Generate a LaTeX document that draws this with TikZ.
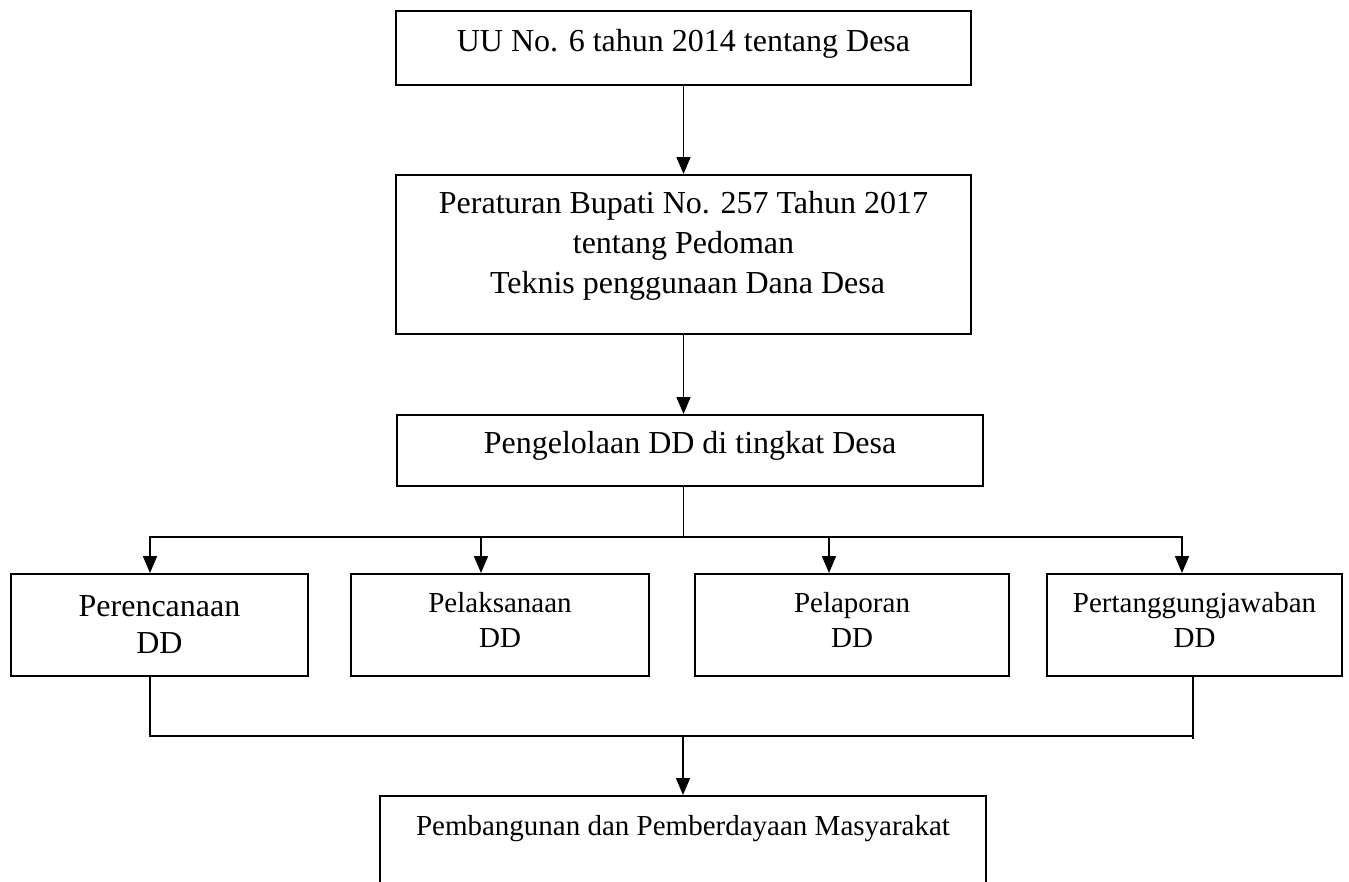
\documentclass[tikz,border=0pt]{standalone}
\usepackage{fontspec}
\setmainfont{Liberation Serif}
\usetikzlibrary{arrows.meta,calc}

\begin{document}
\begin{tikzpicture}[
    x=1pt, y=-1pt,
    box/.style={rectangle, draw, line width=2pt, inner sep=0pt, anchor=north, align=center, font=\fontsize{32}{40}\selectfont},
    bigrow/.style={box, minimum height=102pt, font=\fontsize{32}{37}\selectfont},
    smallrow/.style={box, minimum height=102pt, font=\fontsize{29}{35}\selectfont},
    arrow/.style={-{Triangle[length=17pt, width=14pt]}, line width=1.6pt},
    link/.style={line width=1.6pt}
]
\clip (0,0) rectangle (1349,881);

% Level 1: law
\node[box, minimum width=575pt, text height=40pt, text depth=34pt] (uu) at (683.5,10) {UU No. 6 tahun 2014 tentang Desa};

% Level 2: regent regulation
\node[box, minimum width=575pt, minimum height=159pt] (perbup) at (683.5,174) {
    Peraturan Bupati No. 257 Tahun 2017\\
    tentang Pedoman\\
    \ Teknis penggunaan Dana Desa\rule[-25pt]{0pt}{0pt}
};

% Level 3: village management
\node[box, minimum width=586pt, text height=38pt, text depth=33pt] (kelola) at (690,414) {Pengelolaan DD di tingkat Desa};

% Level 4: the four stages
\node[bigrow, minimum width=297pt] (rencana) at (159.5,573) {Perencanaan\\DD};
\node[smallrow, minimum width=298pt] (laksana) at (500,573) {Pelaksanaan\\DD\rule[-10pt]{0pt}{0pt}};
\node[smallrow, minimum width=314pt] (lapor) at (852,573) {Pelaporan\\DD\rule[-10pt]{0pt}{0pt}};
\node[smallrow, minimum width=295pt] (tanggung) at (1194.5,573) {Pertanggungjawaban\\DD\rule[-10pt]{0pt}{0pt}};

% Level 5: outcome
\node[box, minimum width=606pt, text height=39pt, text depth=80pt, font=\fontsize{29}{35}\selectfont] (hasil) at (683,795) {Pembangunan dan Pemberdayaan Masyarakat};

% Arrows down the spine
\draw[arrow] (uu) -- (perbup);
\draw[arrow] (perbup.south) -- (perbup.south |- kelola.north);

% Split into the four stages
\coordinate (split) at ($(kelola.south -| uu.south)+(0,50)$);
\draw[link] (kelola.south -| uu.south) -- (split);
\draw[arrow] (split) -| ($(rencana.north)+(-9.5,0)$);
\draw[arrow] (split) -| ($(laksana.north)+(-19,0)$);
\draw[arrow] (split) -| ($(lapor.north)+(-23,0)$);
\draw[arrow] (split) -| ($(tanggung.north)+(-12.5,0)$);

% Join back to the outcome
\coordinate (joinrow) at ($(rencana.south)+(-9.5,59)$);
\draw[link] ($(rencana.south)+(-9.5,0)$) -- (joinrow) -| ($(tanggung.south)+(-1.5,0)$);
\draw[link] ($(tanggung.south)+(-1.5,0)$) -- ++(0,62);
\draw[arrow] (joinrow -| hasil.north) -- (hasil.north);

\end{tikzpicture}
\end{document}
